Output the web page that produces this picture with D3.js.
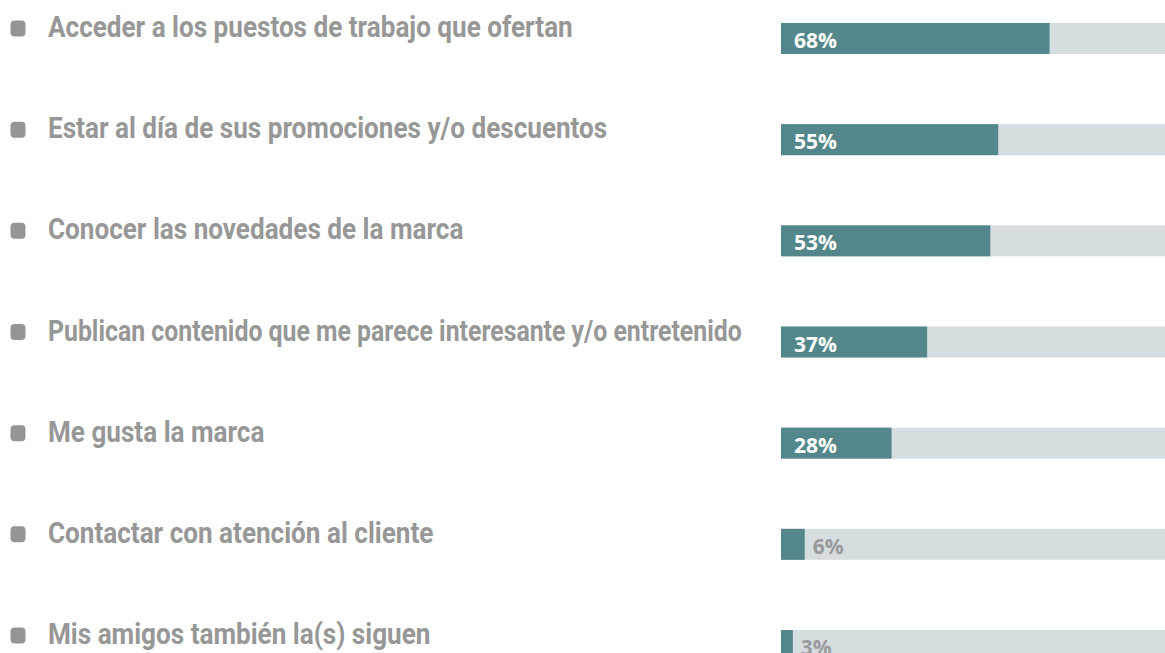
<!DOCTYPE html>
<html>
<head>
<meta charset="utf-8">
<script src="https://cdn.jsdelivr.net/npm/d3@7"></script>
<style>
	html, body { margin: 0; padding: 0; background: #fff; overflow: hidden; }
	.chart { display: block; }
</style>
</head>
<body>
<svg class="chart" width="1165" height="653"></svg>
<script>

	var categories = [
		"Acceder a los puestos de trabajo que ofertan",
		"Estar al día de sus promociones y/o descuentos",
		"Conocer las novedades de la marca",
		"Publican contenido que me parece interesante y/o entretenido",
		"Me gusta la marca",
		"Contactar con atención al cliente",
		"Mis amigos también la(s) siguen"
	];

	var values = [68, 55, 53, 37, 28, 6, 3];

	var chart = d3.select('.chart');

	var y = d3.scalePoint()
		.domain(categories)
		.range([23, 630]);

	var x = d3.scaleLinear()
		.domain([0, 100])
		.range([781, 1176]);

	var barHeight = 31,
		labelLeft = 48,
		labelMax = 694;

	var rows = chart.selectAll('g.row')
		.data(categories)
		.enter()
		.append('g')
			.attr('class', 'row')
			.attr('transform', function(d){ return 'translate(0,' + y(d) + ')'; });

	// bullet
	rows.append('rect')
		.attr('x', 10.5)
		.attr('y', -2.5)
		.attr('width', 15)
		.attr('height', 16)
		.attr('rx', 4)
		.style('fill', '#959595');

	// labels (condensed look by squeezing Roboto bold)
	var labels = rows.append('text')
		.attr('class', 'label')
		.attr('x', 0)
		.attr('y', 0)
		.text(function(d){ return d; })
		.style('font-family', 'Roboto, sans-serif')
		.style('font-weight', '700')
		.style('font-size', '29px')
		.style('fill', '#979797');

	var squeeze = 525 / labels.node().getComputedTextLength();
	labels.attr('transform', function(){
		var len = this.getComputedTextLength();
		var s = Math.min(squeeze, labelMax / len);
		return 'translate(' + labelLeft + ',14) scale(' + s + ',1)';
	});

	// track
	rows.append('rect')
		.attr('x', x(0))
		.attr('y', 0)
		.attr('width', x(100) - x(0))
		.attr('height', barHeight)
		.style('fill', '#d6dde0');

	// value bar
	rows.append('rect')
		.attr('x', x(0))
		.attr('y', 0)
		.attr('width', function(d, i){ return x(values[i]) - x(0); })
		.attr('height', barHeight)
		.style('fill', '#53878b');

	rows.append('text')
		.text(function(d, i){ return values[i] + '%'; })
		.attr('x', function(d, i){ return values[i] > 10 ? 794 : x(values[i]) + 8; })
		.attr('y', 25)
		.style('font-family', '"Open Sans", sans-serif')
		.style('font-weight', '700')
		.style('font-size', '21px')
		.style('fill', function(d, i){ return values[i] > 10 ? '#ffffff' : '#9a9a9a'; });

</script>
</body>
</html>
